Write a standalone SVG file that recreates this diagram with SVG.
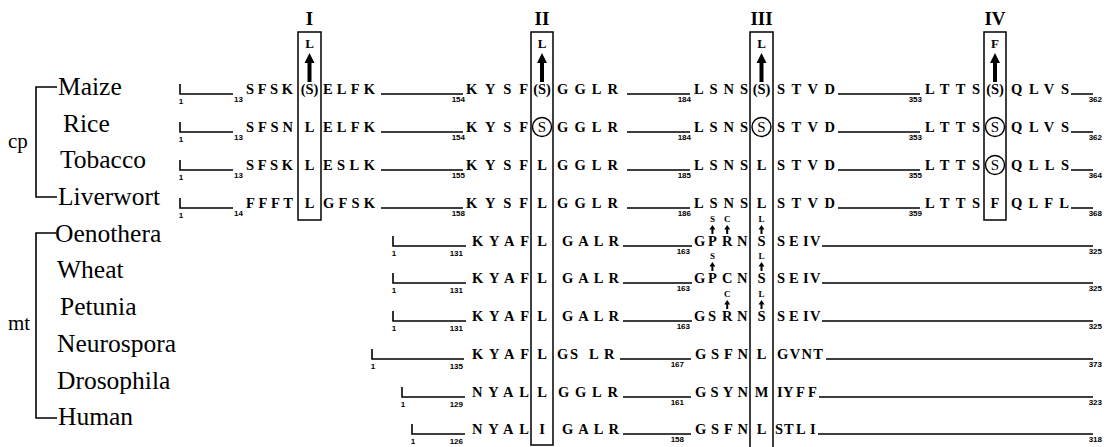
<svg xmlns="http://www.w3.org/2000/svg" width="1104" height="447" viewBox="0 0 1104 447" font-family="Liberation Serif">
<style>
.sp{font-size:25.5px;fill:#000}
.grp{font-size:21px;fill:#000}
.seq{font-size:14.5px;font-weight:bold;fill:#000}
.c{text-anchor:middle}
.num{font-size:8px;font-weight:bold;fill:#000}
.e{text-anchor:end}
.ed{font-size:9px;font-weight:bold;text-anchor:middle;fill:#000}
.top{font-size:13px;font-weight:bold;text-anchor:middle;fill:#000}
.rn{font-size:19px;font-weight:bold;text-anchor:middle;fill:#000}
.box{fill:none;stroke:#000;stroke-width:1.5}
.ln{fill:none;stroke:#000;stroke-width:1.6}
.circ{fill:none;stroke:#000;stroke-width:1.4}
.cs{font-size:15px;text-anchor:middle;fill:#000}
</style>
<defs>
<path id="bigarrow" d="M0,0 L5,10 L2,10 L2,29 L-2,29 L-2,10 L-5,10 Z" fill="#000"/>
<path id="smallarrow" d="M0,0 L3,4.5 L1,4.5 L1,9 L-1,9 L-1,4.5 L-3,4.5 Z" fill="#000"/>
</defs>

<g id="groups" font-family="Liberation Serif">
<path class="ln" d="M57,87 H36 V197 H57"/>
<text class="grp" x="8" y="148">cp</text>
<path class="ln" d="M56,233 H36 V418 H57"/>
<text class="grp" x="8" y="330">mt</text>
</g>

<g id="species" font-family="Liberation Serif">
<text class="sp" x="58" y="95">Maize</text>
<text class="sp" x="63" y="132">Rice</text>
<text class="sp" x="60" y="168">Tobacco</text>
<text class="sp" x="58" y="205">Liverwort</text>
<text class="sp" x="55" y="242">Oenothera</text>
<text class="sp" x="57" y="278">Wheat</text>
<text class="sp" x="60" y="315">Petunia</text>
<text class="sp" x="57" y="352">Neurospora</text>
<text class="sp" x="57" y="389">Drosophila</text>
<text class="sp" x="58" y="425">Human</text>
</g>

<g id="boxes" font-family="Liberation Serif">
<rect class="box" x="298" y="32" width="23" height="188"/>
<rect class="box" x="531" y="32" width="22" height="413"/>
<path class="box" d="M750,448 V32 H773 V448"/>
<rect class="box" x="984" y="32" width="22" height="188"/>
<text class="rn" x="309.5" y="25">I</text>
<text class="rn" x="542" y="25">II</text>
<text class="rn" x="761.5" y="25">III</text>
<text class="rn" x="995" y="25">IV</text>
<text class="top" x="309.5" y="48">L</text>
<text class="top" x="542" y="48">L</text>
<text class="top" x="761.5" y="48">L</text>
<text class="top" x="995" y="48">F</text>
<use href="#bigarrow" x="309.5" y="53"/>
<use href="#bigarrow" x="542" y="53"/>
<use href="#bigarrow" x="761.5" y="53"/>
<use href="#bigarrow" x="995" y="53"/>
</g>

<g id="connectors">
<path class="ln" d="M180,84 V94 H233 M381,94 H463 M627,94 H690 M838,94 H920 M1071,94 H1093"/>
<path class="ln" d="M180,122 V132 H233 M381,132 H463 M627,132 H690 M838,132 H920 M1071,132 H1093"/>
<path class="ln" d="M180,160 V170 H233 M381,170 H463 M627,170 H690 M838,170 H920 M1071,170 H1093"/>
<path class="ln" d="M180,198 V208 H233 M381,208 H463 M627,208 H690 M838,208 H920 M1071,208 H1093"/>
<path class="ln" d="M393,236 V246 H466 M623,246 H692 M822,246 H1093"/>
<path class="ln" d="M393,273 V283 H466 M623,283 H692 M822,283 H1093"/>
<path class="ln" d="M393,311 V321 H466 M623,321 H692 M822,321 H1093"/>
<path class="ln" d="M372,349 V359 H464 M620,359 H691 M826,359 H1093"/>
<path class="ln" d="M402,387 V397 H465 M623,397 H691 M819,397 H1093"/>
<path class="ln" d="M412,424 V434 H465 M623,434 H691 M818,434 H1093"/>
</g>

<g id="numbers" font-family="Liberation Sans">
<text class="num c" x="181" y="104">1</text>
<text class="num" x="234" y="102">13</text>
<text class="num e" x="465" y="102">154</text>
<text class="num e" x="691" y="102">184</text>
<text class="num e" x="922" y="102">353</text>
<text class="num e" x="1102" y="102">362</text>
<text class="num c" x="181" y="142">1</text>
<text class="num" x="234" y="140">13</text>
<text class="num e" x="465" y="140">154</text>
<text class="num e" x="691" y="140">184</text>
<text class="num e" x="922" y="140">353</text>
<text class="num e" x="1102" y="140">362</text>
<text class="num c" x="181" y="180">1</text>
<text class="num" x="234" y="178">13</text>
<text class="num e" x="465" y="178">155</text>
<text class="num e" x="691" y="178">185</text>
<text class="num e" x="922" y="178">355</text>
<text class="num e" x="1102" y="178">364</text>
<text class="num c" x="181" y="218">1</text>
<text class="num" x="234" y="216">14</text>
<text class="num e" x="465" y="216">158</text>
<text class="num e" x="691" y="216">186</text>
<text class="num e" x="922" y="216">359</text>
<text class="num e" x="1102" y="216">368</text>
<text class="num c" x="394" y="256">1</text>
<text class="num e" x="463" y="256">131</text>
<text class="num e" x="690" y="254">163</text>
<text class="num e" x="1102" y="254">325</text>
<text class="num c" x="394" y="293">1</text>
<text class="num e" x="463" y="293">131</text>
<text class="num e" x="690" y="291">163</text>
<text class="num e" x="1102" y="291">325</text>
<text class="num c" x="394" y="331">1</text>
<text class="num e" x="463" y="331">131</text>
<text class="num e" x="690" y="329">163</text>
<text class="num e" x="1102" y="329">325</text>
<text class="num c" x="373" y="369">1</text>
<text class="num e" x="463" y="369">135</text>
<text class="num e" x="684" y="367">167</text>
<text class="num e" x="1102" y="367">373</text>
<text class="num c" x="403" y="407">1</text>
<text class="num e" x="463" y="407">129</text>
<text class="num e" x="684" y="405">161</text>
<text class="num e" x="1102" y="405">323</text>
<text class="num c" x="413" y="444">1</text>
<text class="num e" x="463" y="444">126</text>
<text class="num e" x="684" y="442">158</text>
<text class="num e" x="1102" y="442">318</text>
</g>

<g id="row-maize" font-family="Liberation Serif">
<text class="seq" x="246" y="94" textLength="47">SFSK</text>
<text class="seq c" x="309.5" y="94">(S)</text>
<text class="seq" x="323" y="94" textLength="52">ELFK</text>
<text class="seq" x="466" y="94" textLength="62">KYSF</text>
<text class="seq c" x="542" y="94">(S)</text>
<text class="seq" x="557" y="94" textLength="61">GGLR</text>
<text class="seq" x="694" y="94" textLength="54">LSNS</text>
<text class="seq c" x="761.5" y="94">(S)</text>
<text class="seq" x="777" y="94" textLength="58">STVD</text>
<text class="seq" x="925" y="94" textLength="55">LTTS</text>
<text class="seq c" x="995" y="94">(S)</text>
<text class="seq" x="1011" y="94" textLength="58">QLVS</text>
</g>

<g id="row-rice" font-family="Liberation Serif">
<text class="seq" x="246" y="132" textLength="47">SFSN</text>
<text class="seq c" x="309.5" y="132">L</text>
<text class="seq" x="323" y="132" textLength="52">ELFK</text>
<text class="seq" x="466" y="132" textLength="62">KYSF</text>
<circle class="circ" cx="542" cy="127" r="9.5"/>
<text class="cs" x="542" y="132">S</text>
<text class="seq" x="557" y="132" textLength="61">GGLR</text>
<text class="seq" x="694" y="132" textLength="54">LSNS</text>
<circle class="circ" cx="761.5" cy="127" r="9.5"/>
<text class="cs" x="761.5" y="132">S</text>
<text class="seq" x="777" y="132" textLength="58">STVD</text>
<text class="seq" x="925" y="132" textLength="55">LTTS</text>
<circle class="circ" cx="995" cy="127" r="9.5"/>
<text class="cs" x="995" y="132">S</text>
<text class="seq" x="1011" y="132" textLength="58">QLVS</text>
</g>

<g id="row-tobacco" font-family="Liberation Serif">
<text class="seq" x="246" y="170" textLength="47">SFSK</text>
<text class="seq c" x="309.5" y="170">L</text>
<text class="seq" x="323" y="170" textLength="52">ESLK</text>
<text class="seq" x="466" y="170" textLength="62">KYSF</text>
<text class="seq c" x="542" y="170">L</text>
<text class="seq" x="557" y="170" textLength="61">GGLR</text>
<text class="seq" x="694" y="170" textLength="54">LSNS</text>
<text class="seq c" x="761.5" y="170">L</text>
<text class="seq" x="777" y="170" textLength="58">STVD</text>
<text class="seq" x="925" y="170" textLength="55">LTTS</text>
<circle class="circ" cx="995" cy="165" r="9.5"/>
<text class="cs" x="995" y="170">S</text>
<text class="seq" x="1011" y="170" textLength="58">QLLS</text>
</g>

<g id="row-liverwort" font-family="Liberation Serif">
<text class="seq" x="246" y="208" textLength="47">FFFT</text>
<text class="seq c" x="309.5" y="208">L</text>
<text class="seq" x="323" y="208" textLength="52">GFSK</text>
<text class="seq" x="466" y="208" textLength="62">KYSF</text>
<text class="seq c" x="542" y="208">L</text>
<text class="seq" x="557" y="208" textLength="61">GGLR</text>
<text class="seq" x="694" y="208" textLength="54">LSNS</text>
<text class="seq c" x="761.5" y="208">L</text>
<text class="seq" x="777" y="208" textLength="58">STVD</text>
<text class="seq" x="925" y="208" textLength="55">LTTS</text>
<text class="seq c" x="995" y="208">F</text>
<text class="seq" x="1011" y="208" textLength="58">QLFL</text>
</g>

<g id="row-oenothera" font-family="Liberation Serif">
<text class="seq" x="472" y="246" textLength="57">KYAF</text>
<text class="seq c" x="542" y="246">L</text>
<text class="seq" x="562" y="246" textLength="57">GALR</text>
<text class="seq" x="694 708 722 737" y="246">GPRN</text>
<text class="seq c" x="761.5" y="246">S</text>
<text class="seq" x="777 789 803 810" y="246">SEIV</text>
<text class="ed" x="712.4" y="222">S</text>
<use href="#smallarrow" x="712.4" y="225"/>
<text class="ed" x="727.2" y="222">C</text>
<use href="#smallarrow" x="727.2" y="225"/>
<text class="ed" x="761.5" y="222">L</text>
<use href="#smallarrow" x="761.5" y="225"/>
</g>

<g id="row-wheat" font-family="Liberation Serif">
<text class="seq" x="472" y="283" textLength="57">KYAF</text>
<text class="seq c" x="542" y="283">L</text>
<text class="seq" x="562" y="283" textLength="57">GALR</text>
<text class="seq" x="694 708 722 737" y="283">GPCN</text>
<text class="seq c" x="761.5" y="283">S</text>
<text class="seq" x="777 789 803 810" y="283">SEIV</text>
<text class="ed" x="712.4" y="259">S</text>
<use href="#smallarrow" x="712.4" y="262"/>
<text class="ed" x="761.5" y="259">L</text>
<use href="#smallarrow" x="761.5" y="262"/>
</g>

<g id="row-petunia" font-family="Liberation Serif">
<text class="seq" x="472" y="321" textLength="57">KYAF</text>
<text class="seq c" x="542" y="321">L</text>
<text class="seq" x="562" y="321" textLength="57">GALR</text>
<text class="seq" x="694 708 722 737" y="321">GSRN</text>
<text class="seq c" x="761.5" y="321">S</text>
<text class="seq" x="777 789 803 810" y="321">SEIV</text>
<text class="ed" x="727.2" y="297">C</text>
<use href="#smallarrow" x="727.2" y="300"/>
<text class="ed" x="761.5" y="297">L</text>
<use href="#smallarrow" x="761.5" y="300"/>
</g>

<g id="row-neurospora" font-family="Liberation Serif">
<text class="seq" x="472" y="359" textLength="57">KYAF</text>
<text class="seq c" x="542" y="359">L</text>
<text class="seq" x="557 570 589 604" y="359">GSLR</text>
<text class="seq" x="695" y="359" textLength="53">GSFN</text>
<text class="seq c" x="761.5" y="359">L</text>
<text class="seq" x="777" y="359" textLength="46">GVNT</text>
</g>

<g id="row-drosophila" font-family="Liberation Serif">
<text class="seq" x="472" y="397" textLength="57">NYAL</text>
<text class="seq c" x="542" y="397">L</text>
<text class="seq" x="558" y="397" textLength="60">GGLR</text>
<text class="seq" x="695" y="397" textLength="53">GSYN</text>
<text class="seq c" x="761.5" y="397">M</text>
<text class="seq" x="777 783 796 808" y="397">IYFF</text>
</g>

<g id="row-human" font-family="Liberation Serif">
<text class="seq" x="472" y="434" textLength="57">NYAL</text>
<text class="seq c" x="542" y="434">I</text>
<text class="seq" x="562" y="434" textLength="57">GALR</text>
<text class="seq" x="695" y="434" textLength="53">GSFN</text>
<text class="seq c" x="761.5" y="434">L</text>
<text class="seq" x="775 784 796 810" y="434">STLI</text>
</g>
</svg>
